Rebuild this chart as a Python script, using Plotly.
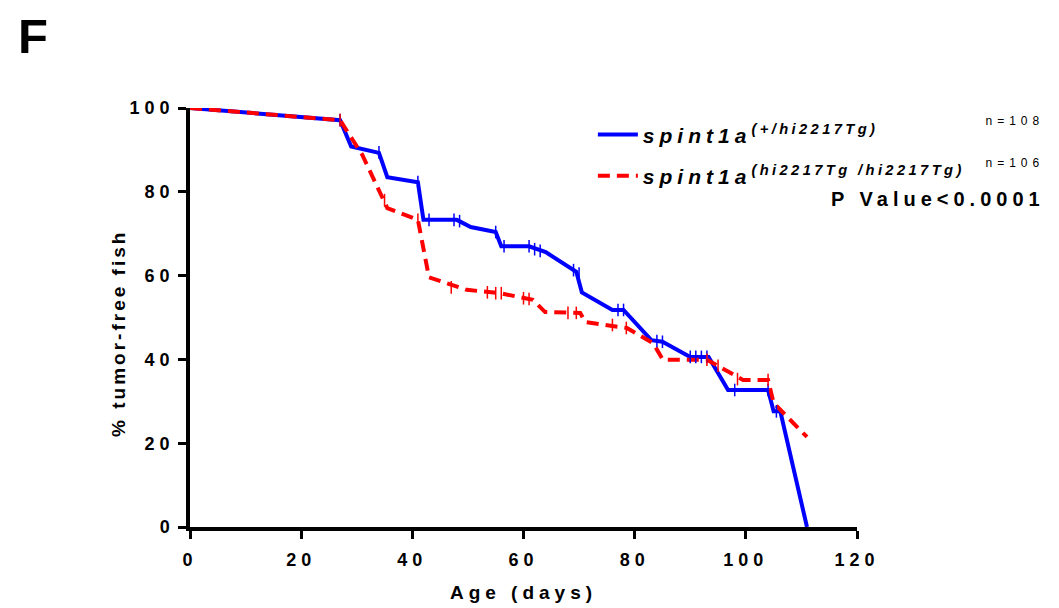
import plotly.graph_objects as go

# ---- data ----
blue_x = [0, 27, 29, 34, 35.5, 41, 42, 48, 50.5, 55, 56, 61, 64, 69.5, 70.5, 76, 78, 83, 85, 90, 93.3, 96.8, 104, 105, 106.2, 111]
blue_y = [100, 97.1, 90.8, 89.3, 83.5, 82.3, 73.3, 73.3, 71.6, 70.4, 67, 67, 65.6, 60.9, 56, 51.8, 51.8, 44.6, 44.2, 40.6, 40.6, 32.7, 32.7, 27.6, 27.6, 0]

red_x = [0, 27, 31, 35.5, 41, 43, 49.8, 55.8, 61.7, 63.9, 70.2, 71.1, 78.6, 83.3, 85.1, 93, 99.5, 104, 105, 111]
red_y = [100, 97.1, 88.8, 76.1, 73.3, 59.6, 56.6, 55.8, 54.2, 51.3, 51.1, 48.9, 47.5, 43.9, 39.9, 39.9, 35.1, 35.1, 29.6, 21.5]

# censor ticks
blue_cx = [27, 34, 41, 43, 47.5, 48.5, 55, 56.5, 61, 62, 63, 69, 70, 77, 78, 84, 85, 90, 91, 92, 93, 98, 104, 105.5]
blue_cy = [97.1, 89.4, 82.3, 73.3, 73.3, 73.0, 70.4, 67, 67, 66.3, 65.9, 61.3, 60.5, 51.8, 51.8, 44.4, 44.2, 40.6, 40.6, 40.6, 40.6, 32.7, 32.7, 27.6]
red_cx = [27, 35, 41, 47, 53.5, 55, 56, 60, 61, 68, 69.5, 76, 78.5, 93, 95, 98.5, 104]
red_cy = [97.1, 78, 73.3, 57.2, 56, 55.8, 55.8, 54.6, 54.4, 51.1, 51.1, 48.2, 47.5, 39.9, 38.5, 35.3, 35.1]

x_ticks = [0, 20, 40, 60, 80, 100, 120]
y_ticks = [0, 20, 40, 60, 80, 100]

label_blue = "<b><i>spint1a<sup>(+/hi2217Tg)</sup></i></b>"
label_red = "<b><i>spint1a<sup>(hi2217Tg /hi2217Tg)</sup></i></b>"
n_blue = "n=108"
n_red = "n=106"
p_text = "P Value<0.0001"
x_title = "Age (days)"
y_title = "% tumor-free fish"

FONT = "Liberation Sans, Arial, sans-serif"
BLUE = "#0000FF"
RED = "#FF0000"

fig = go.Figure()
fig.add_trace(go.Scatter(x=blue_x, y=blue_y, mode="lines", name=label_blue, legendgroup="a",
                         line=dict(color=BLUE, width=4), cliponaxis=False))
fig.add_trace(go.Scatter(x=red_x, y=red_y, mode="lines", name=label_red, legendgroup="b",
                         line=dict(color=RED, width=4, dash="12px,7px"), cliponaxis=False))
fig.add_trace(go.Scatter(x=blue_cx, y=blue_cy, mode="markers", showlegend=False,
                         marker=dict(symbol="line-ns", size=9, line=dict(color=BLUE, width=1.5)),
                         cliponaxis=False))
fig.add_trace(go.Scatter(x=red_cx, y=red_cy, mode="markers", showlegend=False,
                         marker=dict(symbol="line-ns", size=9, line=dict(color=RED, width=1.5)),
                         cliponaxis=False))

axis_common = dict(showline=True, linecolor="black", linewidth=3.5, ticks="outside",
                   tickwidth=3, ticklen=8, tickcolor="black", showgrid=False, zeroline=False,
                   automargin=False,
                   tickfont=dict(family=FONT, size=18, color="black", weight="bold"),
                   title_font=dict(family=FONT, size=19, color="black", weight="bold"))

fig.update_xaxes(range=[0, 120], tickvals=x_ticks, ticktext=[str(v) for v in x_ticks],
                 ticklabelstandoff=6,
                 title_text=x_title, title_standoff=17, **axis_common)
fig.update_yaxes(range=[0, 100], tickvals=y_ticks, ticktext=[str(v) for v in y_ticks],
                 **axis_common)

# y-axis title as a rotated annotation so its vertical position can follow the reference
fig.add_annotation(text="<b>" + y_title + "</b>", xref="paper", yref="paper",
                   x=-0.108, y=0.462, xanchor="center", yanchor="middle", textangle=-90,
                   showarrow=False, font=dict(family=FONT, size=19, color="black"),
                   name="ytitle_ann")

fig.add_annotation(text="<b>F</b>", xref="paper", yref="paper", x=-0.261, y=1.24,
                   xanchor="left", yanchor="top", showarrow=False,
                   font=dict(family=FONT, size=49, color="black"))
fig.add_annotation(text=n_blue, xref="paper", yref="paper", x=1.266, y=0.969,
                   xanchor="right", yanchor="middle", showarrow=False,
                   font=dict(family=FONT, size=12, color="black"))
fig.add_annotation(text=n_red, xref="paper", yref="paper", x=1.266, y=0.869,
                   xanchor="right", yanchor="middle", showarrow=False,
                   font=dict(family=FONT, size=12, color="black"))
fig.add_annotation(text="<b>" + p_text + "</b>", xref="paper", yref="paper", x=1.232, y=0.783,
                   xanchor="right", yanchor="middle", showarrow=False,
                   font=dict(family=FONT, size=20, color="black"))

fig.update_layout(
    width=1059, height=608,
    margin=dict(l=190, r=202, t=108, b=81, autoexpand=False),
    plot_bgcolor="white", paper_bgcolor="white",
    showlegend=True,
    legend=dict(x=0.604, y=0.985, xanchor="left", yanchor="top",
                font=dict(family=FONT, size=21, color="black"),
                bgcolor="rgba(0,0,0,0)", itemwidth=40, tracegroupgap=11),
)

# Prism-style wide letter spacing applied to the SVG texts after drawing
post = """
var gd = document.getElementById('{plot_id}');
document.body.style.margin = '0';
function spaceText() {
  gd.querySelectorAll('text').forEach(function (t) {
    var fs = parseFloat(t.style.fontSize || '12');
    var ls = fs >= 40 ? 0 : 5;
    if (t.textContent.indexOf('tumor') >= 0) ls = 3;
    t.style.letterSpacing = ls + 'px';
  });
  gd.querySelectorAll('.legend tspan').forEach(function (s) {
    var f = s.style.fontSize || '';
    if (f.indexOf('%') >= 0) s.style.letterSpacing = '3.4px';
  });
  gd.querySelectorAll('.legend [clip-path]').forEach(function (el) {
    el.removeAttribute('clip-path');
  });
}
spaceText();
gd.on('plotly_afterplot', spaceText);
"""

fig.write_html("out.html", post_script=post, config={"displayModeBar": False})
